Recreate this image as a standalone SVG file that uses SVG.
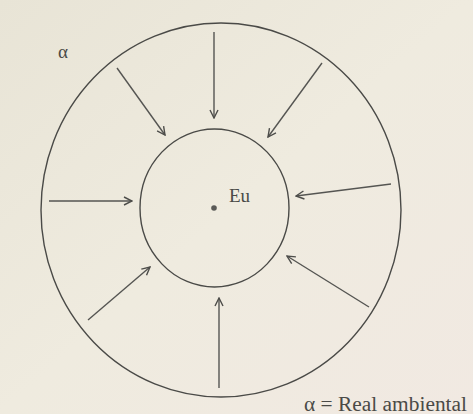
<svg xmlns="http://www.w3.org/2000/svg" width="473" height="414" viewBox="0 0 473 414">
<defs>
<linearGradient id="bg" x1="0" y1="0" x2="1" y2="1">
<stop offset="0" stop-color="#e8e4d6"/>
<stop offset="0.5" stop-color="#efebdf"/>
<stop offset="1" stop-color="#f1e9e2"/>
</linearGradient>
<marker id="ah" viewBox="0 0 10 10" refX="9" refY="5" markerWidth="10" markerHeight="10" markerUnits="userSpaceOnUse" orient="auto">
<path d="M1,1 L9,5 L1,9" fill="none" stroke="#4d4d4a" stroke-width="1.4"/>
</marker>
<style>
.ring{fill:none;stroke:#4a4a47;stroke-width:1.4}
.arr{stroke:#555552;stroke-width:1.4;fill:none;marker-end:url(#ah)}
.t{font-family:"Liberation Serif","Times New Roman",serif;fill:#4a4a47}
</style>
</defs>
<rect width="473" height="414" fill="url(#bg)"/>
<g id="outer">
<ellipse class="ring" cx="221" cy="210" rx="180" ry="187"/>
<text class="t" x="58" y="58" font-size="19">α</text>
</g>
<g id="eu">
<ellipse class="ring" cx="214.5" cy="208" rx="74.5" ry="79"/>
<circle cx="214" cy="208" r="2.8" fill="#5a5a57"/>
<text class="t" x="229" y="202" font-size="19">Eu</text>
</g>
<g id="connectors">
<line class="arr" x1="214" y1="32" x2="214" y2="118"/>
<line class="arr" x1="117" y1="68" x2="165" y2="135"/>
<line class="arr" x1="322" y1="63" x2="268" y2="137"/>
<line class="arr" x1="49" y1="201" x2="132" y2="201"/>
<line class="arr" x1="391" y1="184" x2="296" y2="196"/>
<line class="arr" x1="88" y1="320" x2="150" y2="267"/>
<line class="arr" x1="219" y1="388" x2="219" y2="298"/>
<line class="arr" x1="369" y1="307" x2="287" y2="256"/>
</g>
<g id="legend">
<text class="t" x="304" y="411" font-size="20" textLength="163" lengthAdjust="spacingAndGlyphs">α = Real ambiental</text>
</g>
</svg>
